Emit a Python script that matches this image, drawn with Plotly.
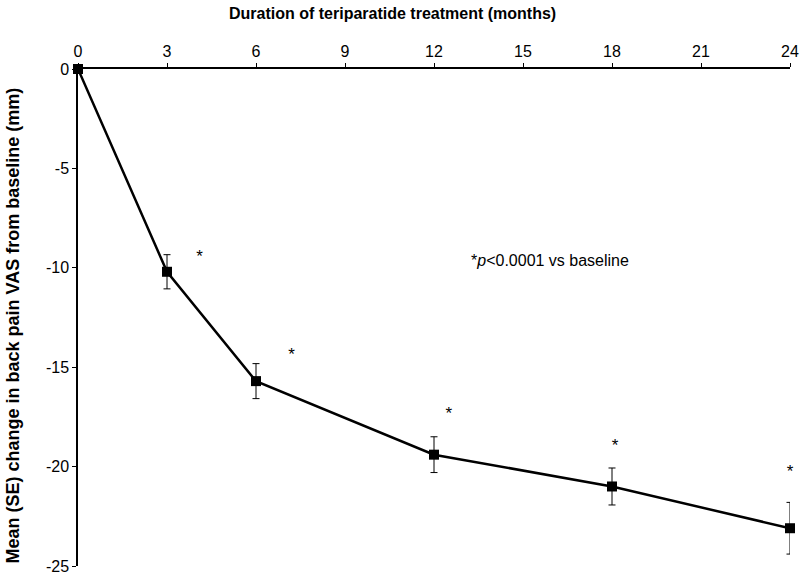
import plotly.graph_objects as go

months = [0, 3, 6, 12, 18, 24]
mean_change = [0, -10.2, -15.7, -19.4, -21.0, -23.1]
se = [0, 0.86, 0.88, 0.9, 0.93, 1.3]

star_x = [4.1, 7.2, 12.5, 18.1, 24.0]
star_y = [-9.5, -14.4, -17.4, -19.0, -20.3]

x_ticks = [0, 3, 6, 9, 12, 15, 18, 21, 24]
y_ticks = [0, -5, -10, -15, -20, -25]

FONT = "Liberation Sans, Arial, sans-serif"

fig = go.Figure()
fig.add_trace(go.Scatter(
    x=months, y=mean_change,
    mode="lines+markers",
    line=dict(color="black", width=2.5),
    marker=dict(symbol="square", size=10, color="black"),
    error_y=dict(type="data", array=se, visible=True, color="black", thickness=1, width=3.5),
    cliponaxis=False,
    showlegend=False,
))
fig.add_trace(go.Scatter(
    x=star_x, y=star_y, mode="text", text=["*"] * len(star_x),
    textfont=dict(family=FONT, size=17, color="black"),
    textposition="middle center", cliponaxis=False, showlegend=False,
))

fig.add_annotation(
    x=15.9, y=-9.65, xref="x", yref="y", text="*<i>p</i><0.0001 vs baseline",
    showarrow=False, font=dict(family=FONT, size=16, color="black"),
)
fig.add_annotation(
    x=0.4424, y=1.111, xref="paper", yref="paper",
    text="<b>Duration of teriparatide treatment (months)</b>",
    showarrow=False, font=dict(family=FONT, size=16, color="black"),
    xanchor="center", yanchor="middle",
)
fig.add_annotation(
    x=-0.092, y=0.485, xref="paper", yref="paper",
    text="<b>Mean (SE) change in back pain VAS from baseline (mm)</b>",
    showarrow=False, textangle=-90, font=dict(family=FONT, size=18, color="black"),
    xanchor="center", yanchor="middle",
)

fig.update_layout(
    width=800, height=576,
    margin=dict(l=78, r=10, t=69, b=10),
    plot_bgcolor="white", paper_bgcolor="white",
    font=dict(family=FONT, size=16, color="black"),
    xaxis=dict(
        side="top", range=[0, 24], tickvals=x_ticks, ticktext=[str(v) for v in x_ticks],
        showline=True, linecolor="black", linewidth=1.5, showgrid=False, zeroline=False,
        ticks="outside", ticklen=4, tickcolor="black", automargin=False,
        ticklabeloverflow="allow",
    ),
    yaxis=dict(
        range=[-25, 0], tickvals=y_ticks, ticktext=[str(v) for v in y_ticks],
        showline=True, linecolor="black", linewidth=1.5, showgrid=False, zeroline=False,
        ticks="outside", ticklen=4, tickcolor="black", automargin=False,
        ticklabeloverflow="allow",
    ),
)

fig.write_html(
    "out.html",
    config={"displayModeBar": False},
    post_script="document.body.style.margin='0';document.body.style.overflow='hidden';",
)
